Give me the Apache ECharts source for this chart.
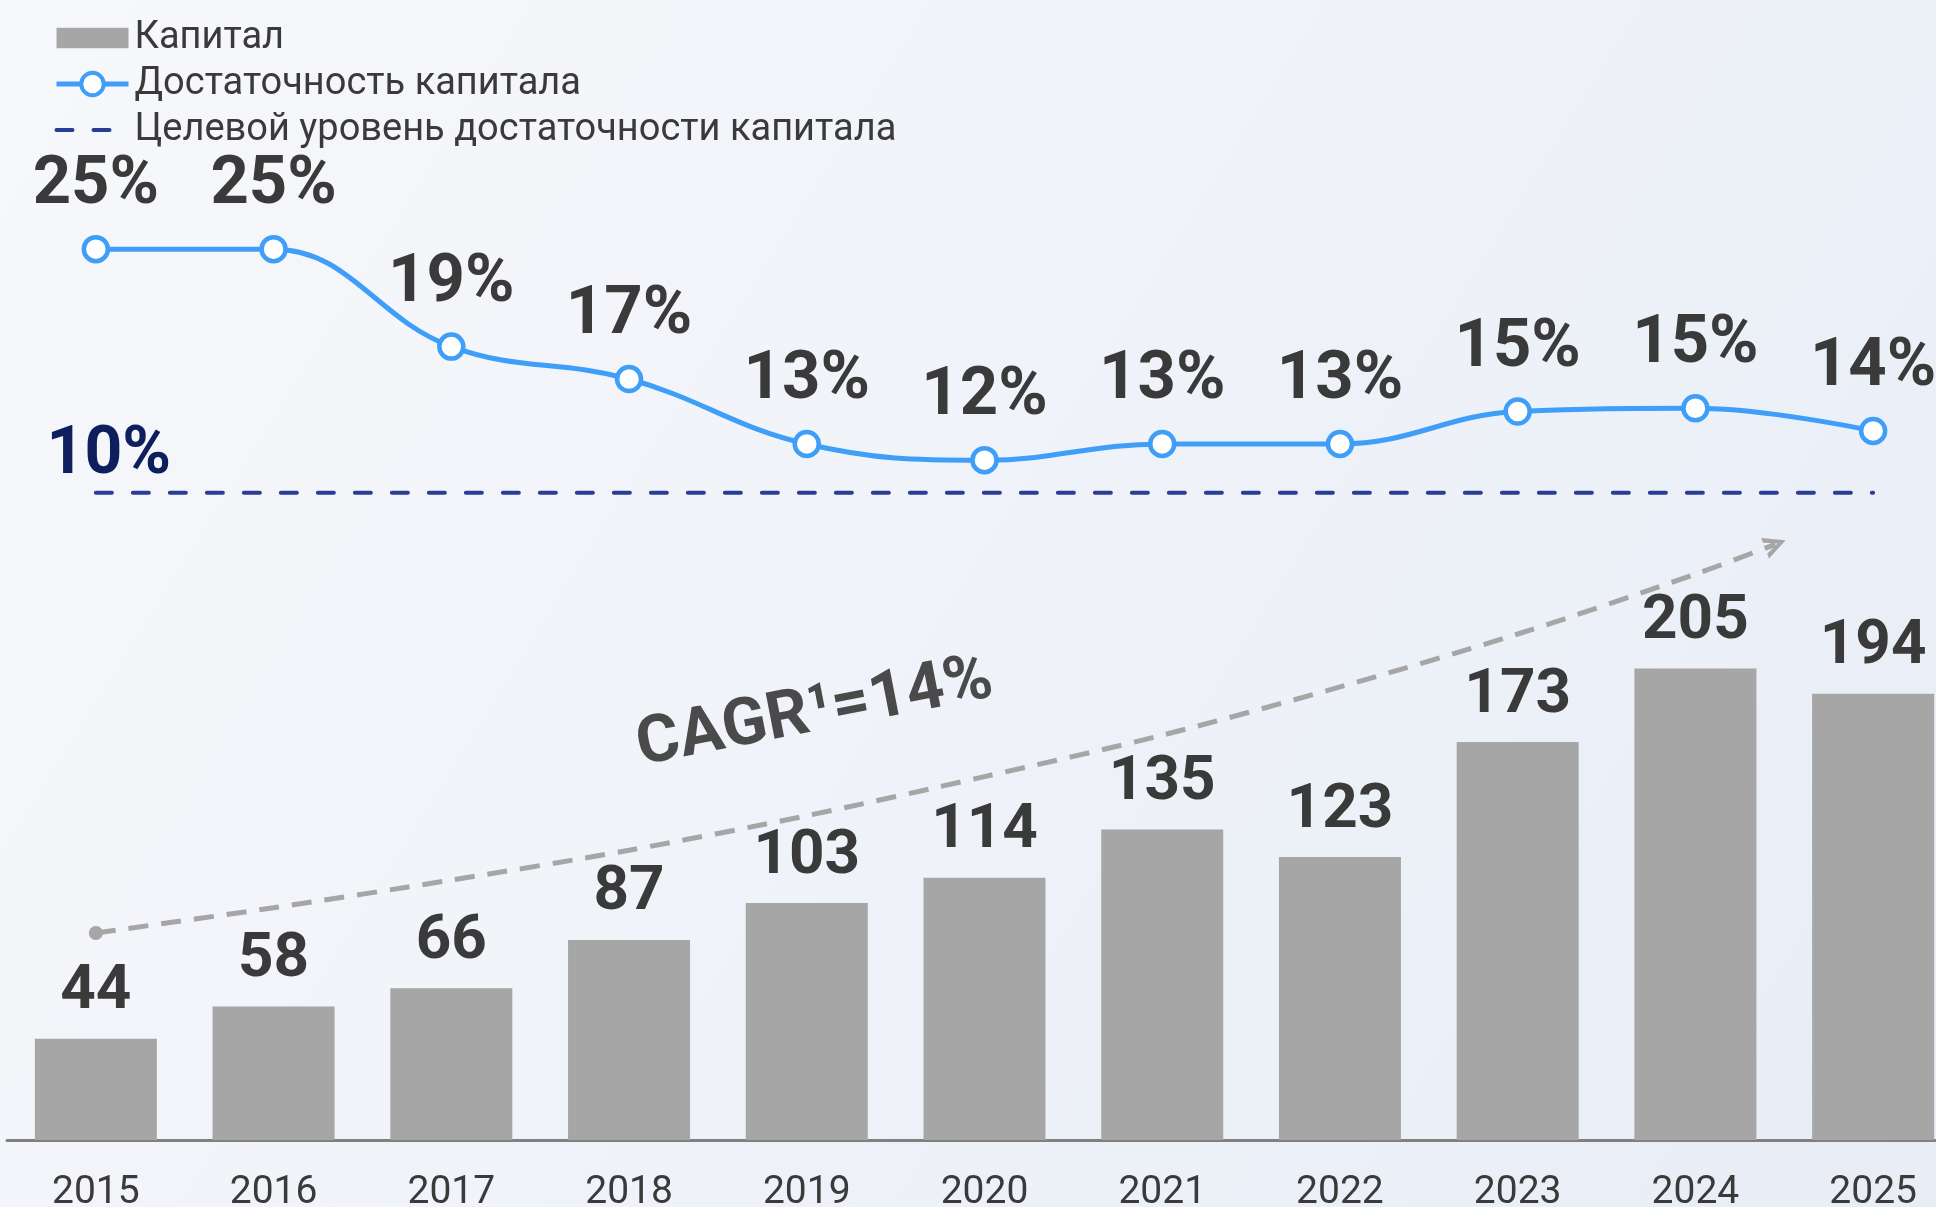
<!DOCTYPE html>
<html><head><meta charset="utf-8">
<script src="https://cdn.jsdelivr.net/npm/echarts@6/dist/echarts.min.js"></script>
<style>html,body{margin:0;padding:0;}#c{width:1936px;height:1207px;}</style>
</head><body><div id="c"></div>
<script>
const years = ['2015','2016','2017','2018','2019','2020','2021','2022','2023','2024','2025'];
const capital = [44, 58, 66, 87, 103, 114, 135, 123, 173, 205, 194];
const adequacy = [25, 25, 19, 17, 13, 12, 13, 13, 15, 15.2, 13.8];
const target = [10, 10, 10, 10, 10, 10, 10, 10, 10, 10, 10];
const cagrX = [0, 1, 2, 3, 4, 5, 6, 7, 8, 9, 9.45];
const cagrY = [90, 101, 113, 126, 141, 158, 176, 197, 220, 246, 259];
const cagrText = 'CAGR\u00B9=14%';
const targetLabel = '10%';

const chart = echarts.init(document.getElementById('c'));
const TXT = '#3a3a3a';
const BLUE = '#3f9ef7';
const NAVY = '#2b3c94';
const GRAY = '#a6a6a6';
const FONT = 'Roboto';

const cagrData = cagrX.map((x, i) => {
  const d = {value: [x, cagrY[i]]};
  if (i === 0) { d.symbol = 'circle'; d.symbolSize = 14; d.itemStyle = {color: GRAY}; }
  else if (i === cagrX.length - 1) {
    d.symbol = 'path://M0,0 L12,6 L0,12 L0,9.2 L7.2,6 L0,2.8 Z';
    d.symbolSize = [22, 22]; d.symbolRotate = 21; d.itemStyle = {color: GRAY};
  } else { d.symbol = 'none'; }
  return d;
});

chart.setOption({
  backgroundColor: {type: 'linear', x: 0, y: 0, x2: 1, y2: 1,
    colorStops: [{offset: 0, color: '#f7f8fb'}, {offset: 1, color: '#e8edf6'}]},
  animation: false,
  textStyle: {fontFamily: FONT},
  legend: {
    orient: 'vertical', left: 49, top: 14, itemWidth: 72, itemHeight: 28, itemGap: 8,
    textStyle: {fontSize: 38, lineHeight: 37, color: TXT, fontFamily: FONT, padding: [0, 0, 0, 1]},
    data: [
      {name: 'Капитал', icon: 'path://M0,0 H66 V19 H0 Z'},
      {name: 'Достаточность капитала', lineStyle: {width: 5}, itemStyle: {borderWidth: 4}},
      {name: 'Целевой уровень достаточности капитала', lineStyle: {width: 4}}
    ]
  },
  grid: [
    {left: 7, width: 1955, top: 220, height: 920, outerBoundsMode: 'none', containLabel: false},
    {left: 7, width: 1955, top: 168, height: 487, outerBoundsMode: 'none', containLabel: false}
  ],
  xAxis: [
    {type: 'category', gridIndex: 0, data: years,
     axisLine: {lineStyle: {color: '#808080', width: 3}}, axisTick: {show: false},
     axisLabel: {fontSize: 39, color: TXT, margin: 34, fontFamily: FONT}},
    {type: 'category', gridIndex: 1, data: years, show: false},
    {type: 'value', gridIndex: 0, min: -0.5, max: 10.5, show: false}
  ],
  yAxis: [
    {type: 'value', gridIndex: 0, min: 0, max: 400, show: false},
    {type: 'value', gridIndex: 1, min: 0, max: 30, show: false}
  ],
  series: [
    {name: 'Капитал', type: 'bar', xAxisIndex: 0, yAxisIndex: 0, data: capital,
     barWidth: 122, itemStyle: {color: GRAY},
     label: {show: true, position: 'top', distance: 15, fontSize: 62, fontWeight: 'bold',
             color: TXT, fontFamily: FONT}},
    {name: 'cagr', type: 'line', xAxisIndex: 2, yAxisIndex: 0, data: cagrData,
     smooth: 0.3, symbol: 'none', silent: true, z: 3,
     lineStyle: {color: GRAY, width: 5, type: [20, 13]}},
    {name: 'Целевой уровень достаточности капитала', type: 'line', xAxisIndex: 1, yAxisIndex: 1,
     data: target.map((v, i) => i === 0 ? {value: v, label: {show: true}} : v),
     symbol: 'circle', symbolSize: 2, z: 4,
     itemStyle: {color: 'rgba(0,0,0,0)'},
     lineStyle: {color: NAVY, width: 4, type: [16, 21], cap: 'round'},
     label: {show: false, position: 'top', distance: 2, offset: [13, 0], formatter: targetLabel,
             fontSize: 66, fontWeight: 'bold', color: '#0d1f5c', fontFamily: FONT}},
    {name: 'Достаточность капитала', type: 'line', xAxisIndex: 1, yAxisIndex: 1, data: adequacy,
     smooth: 0.4, symbol: 'circle', symbolSize: 24, color: BLUE, z: 6,
     lineStyle: {color: BLUE, width: 5},
     itemStyle: {color: '#ffffff', borderColor: BLUE, borderWidth: 4.5},
     label: {show: true, position: 'top', distance: 15,
             formatter: p => Math.round(p.value) + '%',
             fontSize: 67, fontWeight: 'bold', color: TXT, fontFamily: FONT}}
  ],
  graphic: [
    {type: 'text', x: 815, y: 714, rotation: 11 * Math.PI / 180, z: 10,
     style: {text: cagrText, fontSize: 66, fontWeight: 'bold', fontFamily: FONT,
             fill: '#4a4a4a', align: 'center', verticalAlign: 'middle'}}
  ]
});
</script></body></html>
